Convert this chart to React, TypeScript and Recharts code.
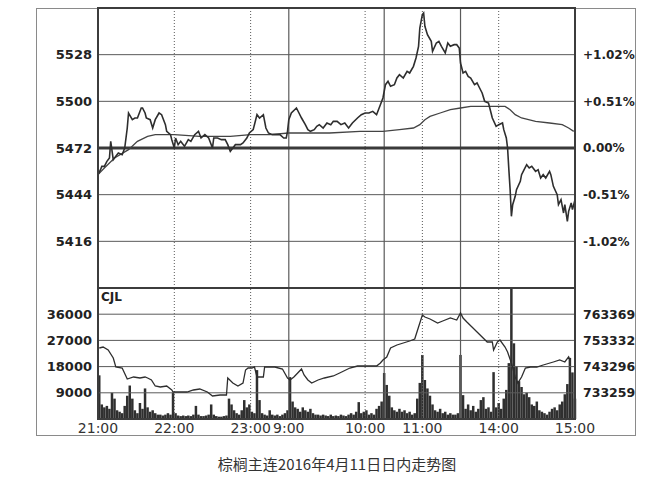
import React from "react"
import {
  Bar,
  ComposedChart,
  Line,
  ReferenceLine,
  XAxis,
  YAxis,
} from "recharts"

// previous settlement, the 0.00% line
const PREV_SETTLE = 5472

const priceTicks = [5416, 5444, 5472, 5500, 5528]
const volTicks = [9000, 18000, 27000, 36000]
const oiTicks = [733259, 743296, 753332, 763369]

// minutes since 21:00 on the trading clock (night 21:00-23:30, 9:00-10:15, 10:30-11:30, 13:30-15:00)
const timeTicks = [0, 60, 120, 150, 210, 255, 315, 375]
const timeLabels = ["21:00", "22:00", "23:00", "9:00", "10:00", "11:00", "14:00", "15:00"]
const hourLines = [60, 120, 210, 255, 315]
const sessionLines = [150, 225, 285]

// [minute, last price]
const pricePoints: [number, number][] = [
  [0, 5456], [2, 5459], [3, 5461], [5, 5461], [7, 5464], [9, 5466], [10, 5476], [12, 5465],
  [14, 5467], [16, 5469], [19, 5468], [21, 5472], [23, 5484], [24, 5493], [27, 5489], [29, 5490],
  [31, 5490], [34, 5496], [35, 5496], [37, 5493], [38, 5490], [41, 5489], [43, 5484], [45, 5489],
  [48, 5493], [50, 5492], [53, 5486], [54, 5482], [57, 5480], [58, 5477], [60, 5472], [61, 5478],
  [63, 5474], [65, 5476], [68, 5473], [71, 5477], [73, 5476], [76, 5480], [79, 5482], [81, 5478],
  [84, 5480], [87, 5478], [90, 5472], [91, 5478], [94, 5478], [97, 5477], [100, 5477], [102, 5474],
  [104, 5470], [106, 5472], [108, 5474], [112, 5474], [114, 5475], [117, 5478], [119, 5481], [122, 5483],
  [125, 5492], [127, 5490], [130, 5492], [132, 5484], [134, 5481], [137, 5480], [140, 5480], [143, 5480],
  [146, 5478], [148, 5478], [149, 5482], [150, 5489], [152, 5493], [156, 5496], [158, 5493], [160, 5490],
  [163, 5486], [165, 5483], [167, 5482], [170, 5483], [172, 5485], [174, 5486], [177, 5484], [180, 5487],
  [183, 5486], [185, 5488], [188, 5488], [191, 5486], [194, 5487], [197, 5484], [200, 5487], [204, 5490],
  [207, 5492], [210, 5493], [213, 5493], [216, 5494], [219, 5492], [222, 5498], [224, 5502], [226, 5510],
  [228, 5512], [230, 5509], [233, 5510], [235, 5514], [237, 5516], [240, 5514], [243, 5518], [245, 5517],
  [248, 5521], [250, 5526], [252, 5533], [253, 5544], [255, 5552], [256, 5553], [257, 5545], [259, 5540],
  [262, 5536], [263, 5530], [266, 5535], [268, 5536], [270, 5533], [273, 5529], [275, 5535], [277, 5533],
  [280, 5534], [282, 5534], [284, 5532], [285, 5523], [287, 5517], [289, 5518], [291, 5515], [293, 5514],
  [296, 5510], [298, 5511], [300, 5508], [302, 5505], [304, 5500], [307, 5499], [308, 5496], [310, 5490],
  [313, 5485], [315, 5486], [318, 5487], [319, 5483], [321, 5478], [322, 5472], [323, 5459], [324, 5447],
  [325, 5431], [326, 5438], [328, 5443], [329, 5447], [332, 5452], [333, 5456], [335, 5459], [337, 5462],
  [339, 5460], [341, 5461], [344, 5458], [346, 5459], [348, 5454], [350, 5456], [352, 5454], [355, 5458],
  [356, 5456], [358, 5449], [361, 5444], [362, 5438], [364, 5441], [366, 5433], [367, 5438], [369, 5428],
  [370, 5434], [372, 5439], [373, 5435], [375, 5441],
]

// [minute, average price]
const avgPoints: [number, number][] = [
  [0, 5456], [5, 5460], [13, 5466], [24, 5471], [31, 5476], [39, 5479], [45, 5480], [60, 5480],
  [80, 5479], [104, 5479], [120, 5480], [135, 5480], [150, 5481], [159, 5481], [182, 5481], [206, 5482],
  [224, 5482], [237, 5483], [248, 5484], [253, 5486], [257, 5489], [261, 5491], [269, 5493], [277, 5495],
  [285, 5496], [293, 5497], [308, 5497], [320, 5497], [324, 5495], [328, 5492], [333, 5490], [344, 5488],
  [355, 5487], [365, 5486], [370, 5484], [374, 5482],
]

// volume (CJL) per 2-minute slot
const volumes = [
  15000, 5000, 4000, 4500, 3500, 9000, 7000, 3000, 2500, 2000, 4500, 8000, 11500, 7000, 3000, 2000,
  5500, 3500, 10500, 4000, 2500, 3000, 2000, 1500, 1500, 1200, 1500, 2000, 1500, 9000, 2000, 1200,
  1000, 1200, 1000, 1200, 1000, 1500, 4500, 1500, 1000, 1000, 1200, 1500, 5000, 1500, 1000, 800,
  800, 1000, 1200, 7000, 5000, 3000, 2000, 1500, 3000, 6500, 4000, 5000, 2500, 2000, 16800, 6500,
  2000, 1500, 1200, 3000, 1500, 1200, 1500, 1000, 1500, 2000, 3000, 14400, 6000, 4000, 3500, 2500,
  4000, 3000, 2500, 3500, 2000, 1500, 1500, 1200, 1500, 1200, 1000, 1500, 1000, 1200, 1000, 1500,
  1200, 1000, 1500, 2000, 1500, 2500, 5800, 2000, 2500, 3000, 1500, 2000, 1500, 3500, 4500, 6000,
  15800, 11700, 8000, 4000, 3000, 2500, 3500, 2500, 3000, 2000, 2500, 1500, 2000, 7000, 12400, 22000,
  13400, 10500, 8000, 5000, 3000, 2500, 3500, 2000, 2500, 1500, 2000, 1500, 1500, 2000, 22000, 8200,
  3500, 5000, 3000, 4500, 2500, 3500, 6500, 7500, 3500, 4000, 2500, 16100, 4000, 5500, 3500, 7000,
  10000, 19200, 45000, 26000, 18000, 13000, 11000, 8500, 9000, 7500, 5000, 4500, 6000, 3000, 2500, 2000,
  1500, 2500, 3500, 4000, 3000, 5000, 6000, 8500, 12000, 21000, 16000, 7000,
]

// [minute, open interest]
const oiPoints: [number, number][] = [
  [1, 750422], [4, 750805], [8, 749656], [12, 746591], [14, 743143], [19, 742760], [23, 738546], [28, 739312],
  [33, 738929], [37, 739312], [39, 738929], [42, 738163], [45, 735864], [49, 735481], [54, 735864], [58, 734332],
  [59, 733566], [62, 733566], [70, 733566], [75, 734332], [80, 734715], [86, 733566], [90, 732034], [96, 732417],
  [101, 732417], [102, 738929], [106, 737013], [110, 735864], [114, 737013], [116, 741994], [118, 742760], [121, 742760],
  [123, 743143], [125, 739312], [130, 739312], [131, 743143], [139, 743143], [145, 742377], [149, 738929], [151, 738163],
  [154, 739312], [157, 740844], [160, 742377], [162, 740078], [165, 738163], [168, 736996], [173, 738163], [178, 738929],
  [185, 739695], [190, 740844], [198, 742760], [204, 743526], [211, 743526], [219, 743526], [222, 744676], [224, 745825],
  [227, 746974], [230, 750422], [235, 751571], [240, 752338], [245, 753104], [249, 753870], [252, 758467], [255, 763064],
  [257, 762298], [261, 761532], [267, 759999], [271, 760766], [277, 761915], [282, 761149], [285, 763830], [287, 761915],
  [290, 760383], [294, 758467], [298, 756552], [302, 754636], [306, 752721], [310, 752721], [311, 749656], [314, 752721],
  [316, 753487], [320, 750805], [322, 748889], [325, 744676], [328, 739312], [330, 737013], [333, 739312], [336, 742760],
  [340, 743143], [345, 743143], [350, 743909], [358, 745058], [363, 745825], [367, 745058], [370, 747032], [371, 745825],
]

type Row = { t: number; [k: string]: number }

function mergeRows(...sets: [string, [number, number][]][]): Row[] {
  const map = new Map<number, Row>()
  sets.forEach(([key, pts]) => {
    pts.forEach(([t, v]) => {
      const row = map.get(t) || { t }
      row[key] = v
      map.set(t, row)
    })
  })
  return [...map.values()].sort((a, b) => a.t - b.t)
}

const priceRows = mergeRows(["price", pricePoints], ["avg", avgPoints])
const volumeRows = volumes.map((v, i) => ({ t: 2 * i + 1, vol: v }))
const oiRows = oiPoints.map(([t, oi]) => ({ t, oi }))

function formatPct(v: number): string {
  const pct = ((v - PREV_SETTLE) / PREV_SETTLE) * 100
  if (Math.abs(pct) < 0.005) return "0.00%"
  return `${pct > 0 ? "+" : ""}${pct.toFixed(2)}%`
}

const GRID = "#5a5a5a"
const INK = "#2e2e2e"
const tickStyle = { fill: "#222", fontSize: 13, fontWeight: 700, fontFamily: "DejaVu Sans" }
const rightTick = { ...tickStyle, fontSize: 12.5 }

export default function App() {
  return (
    <div
      style={{
        position: "absolute",
        left: 0,
        top: 0,
        width: 648,
        height: 488,
        background: "#fff",
        fontFamily: "DejaVu Sans, sans-serif",
      }}
    >
      <div
        style={{
          position: "absolute",
          left: 36,
          top: 8,
          width: 600,
          height: 428,
          boxSizing: "border-box",
          border: "1px solid #8a8a8a",
        }}
      />

      <div style={{ position: "absolute", left: 0, top: 0 }}>
        <ComposedChart
          width={648}
          height={300}
          data={priceRows}
          margin={{ top: 8, right: 13, bottom: 12, left: 38 }}
        >
          <XAxis dataKey="t" type="number" domain={[0, 375]} hide />
          <YAxis
            yAxisId="l"
            domain={[5388, 5556]}
            ticks={priceTicks}
            width={60}
            axisLine={false}
            tickLine={false}
            tickSize={4}
            tickMargin={2}
            tick={tickStyle}
            interval={0}
            allowDataOverflow
          />
          <YAxis
            yAxisId="r"
            orientation="right"
            domain={[5388, 5556]}
            ticks={priceTicks}
            width={60}
            axisLine={false}
            tickLine={false}
            tick={{ ...tickStyle, fontSize: 12 }}
            tickFormatter={formatPct}
            interval={0}
            allowDataOverflow
          />
          {priceTicks
            .filter((v) => v !== PREV_SETTLE)
            .map((v) => (
              <ReferenceLine key={v} yAxisId="l" y={v} stroke={GRID} strokeWidth={1} />
            ))}
          {hourLines.map((t) => (
            <ReferenceLine key={t} yAxisId="l" x={t} stroke={GRID} strokeDasharray="1 2" />
          ))}
          {sessionLines.map((t) => (
            <ReferenceLine key={t} yAxisId="l" x={t} stroke={GRID} strokeWidth={1.2} />
          ))}
          <ReferenceLine yAxisId="l" y={PREV_SETTLE} stroke="#3a3a3a" strokeWidth={3} />
          <Line
            yAxisId="l"
            dataKey="avg"
            stroke="#444"
            strokeWidth={1.3}
            dot={false}
            connectNulls
            isAnimationActive={false}
          />
          <Line
            yAxisId="l"
            dataKey="price"
            stroke={INK}
            strokeWidth={1.6}
            dot={false}
            connectNulls
            isAnimationActive={false}
          />
          {/* same series bound to the percentage axis so that axis is drawn */}
          <Line
            yAxisId="r"
            dataKey="price"
            stroke="none"
            strokeWidth={0}
            dot={false}
            activeDot={false}
            connectNulls
            isAnimationActive={false}
          />
        </ComposedChart>
      </div>

      {/* volume panel (no right axis here, so the right margin holds its place) */}
      <div style={{ position: "absolute", left: 0, top: 280 }}>
        <ComposedChart
          width={648}
          height={160}
          data={volumeRows}
          margin={{ top: 8, right: 73, bottom: 1, left: 38 }}
        >
          <XAxis
            dataKey="t"
            type="number"
            domain={[0, 375]}
            ticks={timeTicks}
            interval={0}
            height={20}
            axisLine={false}
            tickLine={false}
            tickSize={0}
            tickMargin={4}
            tick={{ fill: "#333", fontSize: 14, fontFamily: "DejaVu Sans" }}
            tickFormatter={(t: number) => timeLabels[timeTicks.indexOf(t)] ?? ""}
          />
          <YAxis
            yAxisId="vol"
            domain={[0, 45000]}
            ticks={volTicks}
            width={60}
            axisLine={false}
            tickLine={false}
            tickSize={4}
            tickMargin={2}
            tick={tickStyle}
            interval={0}
            allowDataOverflow
          />
          {volTicks.map((v) => (
            <ReferenceLine key={v} yAxisId="vol" y={v} stroke={GRID} strokeWidth={1} />
          ))}
          {hourLines.map((t) => (
            <ReferenceLine key={t} yAxisId="vol" x={t} stroke={GRID} strokeDasharray="1 2" />
          ))}
          {sessionLines.map((t) => (
            <ReferenceLine key={t} yAxisId="vol" x={t} stroke={GRID} strokeWidth={1.2} />
          ))}
          <Bar yAxisId="vol" dataKey="vol" fill="#2f2f2f" barSize={2.5} isAnimationActive={false} />
        </ComposedChart>
      </div>

      {/* open interest overlay on the same plot box */}
      <div style={{ position: "absolute", left: 0, top: 280 }}>
        <ComposedChart
          width={648}
          height={160}
          data={oiRows}
          margin={{ top: 8, right: 13, bottom: 1, left: 98 }}
        >
          <XAxis
            dataKey="t"
            type="number"
            domain={[0, 375]}
            height={20}
            tick={false}
            axisLine={false}
            tickLine={false}
          />
          <YAxis
            yAxisId="oi"
            orientation="right"
            domain={[723222, 773406]}
            ticks={oiTicks}
            width={60}
            axisLine={false}
            tickLine={false}
            tick={rightTick}
            interval={0}
            allowDataOverflow
          />
          <Line
            yAxisId="oi"
            dataKey="oi"
            stroke={INK}
            strokeWidth={1.3}
            dot={false}
            isAnimationActive={false}
          />
        </ComposedChart>
      </div>

      {/* plot frame and panel divider */}
      <div
        style={{
          position: "absolute",
          left: 97,
          top: 7,
          width: 479,
          height: 413,
          boxSizing: "border-box",
          border: "2px solid #3c3c3c",
          pointerEvents: "none",
        }}
      />
      <div
        style={{
          position: "absolute",
          left: 97,
          top: 287,
          width: 479,
          height: 2,
          background: "#3c3c3c",
        }}
      />

      <div
        style={{
          position: "absolute",
          left: 101,
          top: 290,
          fontSize: 12,
          fontWeight: 700,
          color: "#222",
        }}
      >
        CJL
      </div>

      <div
        style={{
          position: "absolute",
          left: 0,
          top: 453,
          width: 674,
          textAlign: "center",
          fontSize: 15,
          color: "#333",
          fontFamily: "Noto Sans CJK SC, sans-serif",
        }}
      >
        棕榈主连2016年4月11日日内走势图
      </div>
    </div>
  )
}
